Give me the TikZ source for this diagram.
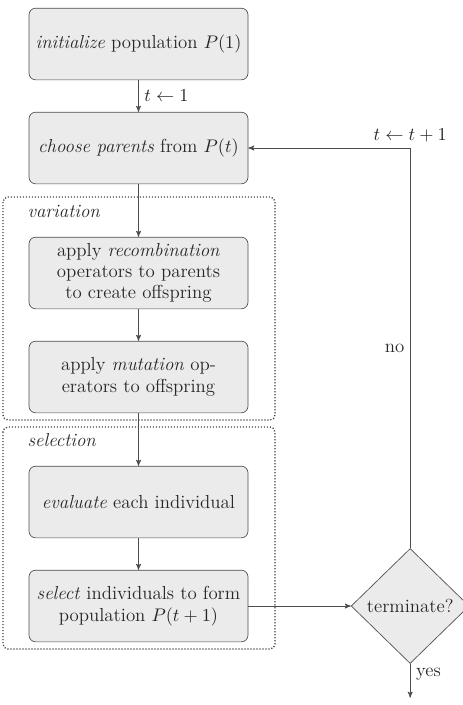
\documentclass[tikz,border=0pt]{standalone}
\usepackage{amsmath}
\usepackage{amssymb}
\usetikzlibrary{positioning, arrows, shapes.geometric}
\tikzset{->, >=stealth', node distance = 62.4pt,
    process/.style = {draw=black!70, fill=black!8, rounded corners=4pt,
        minimum width=131.4pt, minimum height=43pt, align=center, text=black!85},
    decision/.style = {diamond, draw=black!70, fill=black!8, aspect=1,
        minimum width=70.8pt, minimum height=69pt, inner sep=1pt, text=black!85},
    group/.style = {-, draw=black!75, line width=0.8pt,
        dash pattern=on 0.7pt off 1.1pt, rounded corners=3pt},
    grouplabel/.style = {anchor=west, text=black!85}}

\begin{document}
\begin{tikzpicture}[font=\fontsize{11.3}{12.8}\selectfont]
    \useasboundingbox (0pt,0pt) rectangle (277.8pt,-423pt);
    \node[process] (init) at (83.1pt,-26.4pt) {\emph{initialize} population $P(1)$};
    \node[process, below of=init] (choose) {\emph{choose parents} from $P(t)$};
    \node[process, below of=choose, node distance=75pt] (recomb)
        {apply \emph{recombination}\\operators to parents\\to create offspring};
    \node[process, below of=recomb] (mutate) {apply \emph{mutation} op-\\erators to offspring};
    \node[process, below of=mutate, node distance=75pt] (evaluate) {\emph{evaluate} each individual};
    \node[process, below of=evaluate] (select) {\emph{select} individuals to form\\population $P(t+1)$};
    \node[decision, right of=select, node distance=163pt] (term) {terminate?};
    \coordinate[below of=term, node distance=55pt] (out);
    \draw[group] (1.8pt,-118.2pt) rectangle (165pt,-252pt);
    \draw[group] (1.8pt,-256.2pt) rectangle (165pt,-389.4pt);
    \node[grouplabel] (variation) at (13pt,-126.6pt) {\emph{variation}};
    \node[grouplabel] (selection) at (13pt,-264pt) {\emph{selection}};
    \draw[black!70] (init) edge node[right, text=black!85]{$t \leftarrow 1$} (choose)
          (choose) edge (recomb)
          (recomb) edge (mutate)
          (mutate) edge (evaluate)
          (evaluate) edge (select)
          (select) edge (term)
          (term) edge node[pos=0.3, right, text=black!85]{yes} (out);
    \draw[black!70] (term.north) |- node[pos=0.25, left, text=black!85]{no}
          node[pos=0.5, above, text=black!85]{$t \leftarrow t+1$} (choose.east);
\end{tikzpicture}
\end{document}
